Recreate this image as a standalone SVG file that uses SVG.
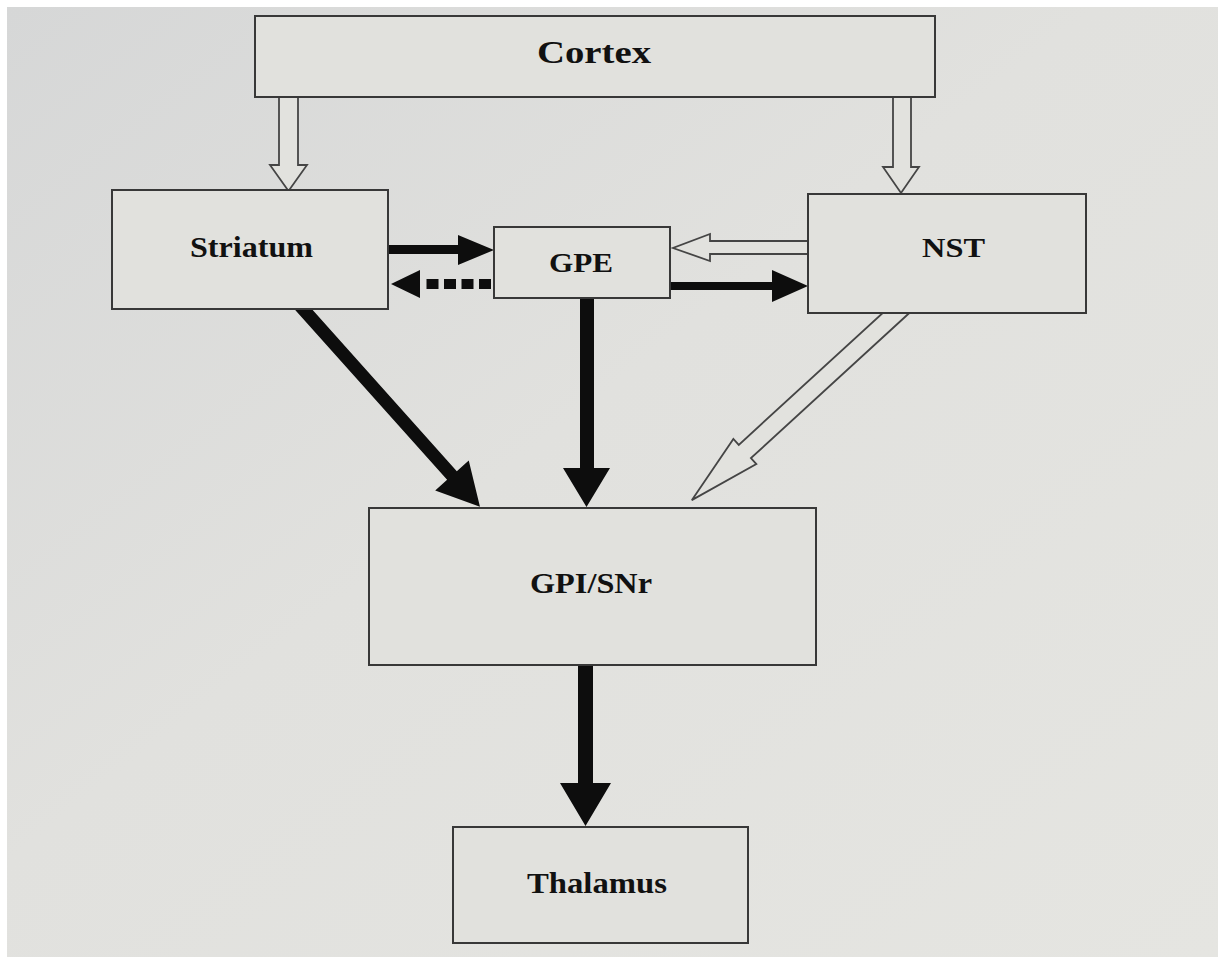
<svg xmlns="http://www.w3.org/2000/svg" width="1218" height="957" viewBox="0 0 1218 957">
<defs>
<linearGradient id="bg" x1="0" y1="0" x2="1" y2="1">
<stop offset="0" stop-color="#d6d7d7"/>
<stop offset="0.45" stop-color="#e1e1de"/>
<stop offset="1" stop-color="#e5e5e1"/>
</linearGradient>
<style>
.box{fill:#e1e1dd;stroke:#383838;stroke-width:2}
.lbl{font-family:"Liberation Serif","Times New Roman",serif;font-weight:bold;fill:#111}
.hollow{fill:#e2e2de;stroke:#454545;stroke-width:1.8;stroke-linejoin:miter}
.solid{fill:#0d0d0d;stroke:none}
.dash{stroke:#0d0d0d;stroke-width:10;stroke-dasharray:12 5.5;fill:none}
</style>
</defs>
<rect x="0" y="0" width="1218" height="957" fill="#ffffff"/>
<rect x="7" y="7" width="1211" height="950" fill="url(#bg)"/>

<g id="connectors">
<polygon class="hollow" points="279,97 279,165 270,165 288.5,191 307,165 298,165 298,97"/>
<polygon class="hollow" points="893,97 893,167 883,167 901,193 919,167 911,167 911,97"/>
<polygon class="hollow" points="808,241 710,241 710,234 673,248 710,261 710,254 808,254"/>
<polygon class="hollow" transform="translate(896,313) rotate(137.5)" points="-15,-9 205,-9 205,-17 277,0 205,17 205,9 -15,9"/>
<polygon class="solid" transform="translate(304,310) rotate(48.2)" points="-15,-6.5 222,-6.5 222,-22.5 264,0 222,22.5 222,6.5 -15,6.5"/>
<polygon class="solid" points="389,245 458,245 458,235 494,250 458,265 458,254 389,254"/>
<polygon class="solid" points="420,270 391,284 420,298"/>
<line class="dash" x1="491" y1="284" x2="426" y2="284"/>
<polygon class="solid" points="671,282 772,282 772,270 808,286 772,302 772,290 671,290"/>
<polygon class="solid" points="580,298 580,468 563,468 586.5,507 610,468 594,468 594,298"/>
<polygon class="solid" points="578,665 578,783 560,783 585.5,826 611,783 593,783 593,665"/>
</g>

<g id="cortex">
<rect class="box" x="255" y="16" width="680" height="81"/>
<text class="lbl" x="537" y="63" font-size="32" textLength="114" lengthAdjust="spacingAndGlyphs">Cortex</text>
</g>
<g id="striatum">
<rect class="box" x="112" y="190" width="276" height="119"/>
<text class="lbl" x="190" y="257" font-size="30" textLength="123" lengthAdjust="spacingAndGlyphs">Striatum</text>
</g>
<g id="gpe">
<rect class="box" x="494" y="227" width="176" height="71"/>
<text class="lbl" x="549" y="272" font-size="28" textLength="64" lengthAdjust="spacingAndGlyphs">GPE</text>
</g>
<g id="nst">
<rect class="box" x="808" y="194" width="278" height="119"/>
<text class="lbl" x="922" y="257" font-size="28" textLength="63" lengthAdjust="spacingAndGlyphs">NST</text>
</g>
<g id="gpi-snr">
<rect class="box" x="369" y="508" width="447" height="157"/>
<text class="lbl" x="530" y="593" font-size="29" textLength="122" lengthAdjust="spacingAndGlyphs">GPI/SNr</text>
</g>
<g id="thalamus">
<rect class="box" x="453" y="827" width="295" height="116"/>
<text class="lbl" x="527" y="893" font-size="30" textLength="140" lengthAdjust="spacingAndGlyphs">Thalamus</text>
</g>
</svg>
